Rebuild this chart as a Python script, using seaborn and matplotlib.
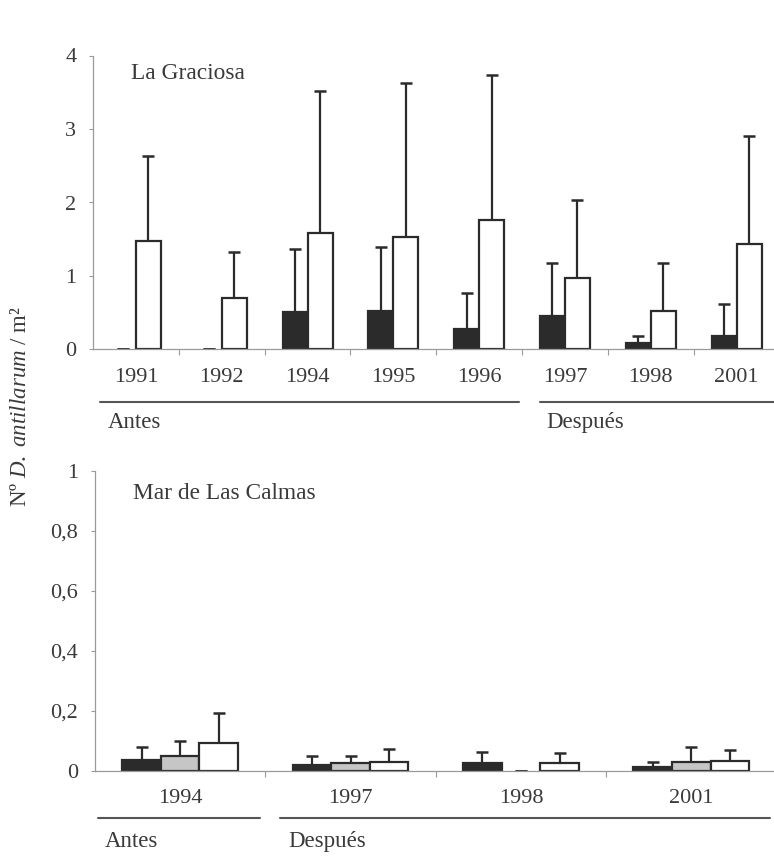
import numpy as np
import pandas as pd
import matplotlib
matplotlib.use("Agg")
import matplotlib.pyplot as plt
import matplotlib.transforms as mtransforms
import seaborn as sns

# ---------------- data ----------------
top_years = ["1991", "1992", "1994", "1995", "1996", "1997", "1998", "2001"]
top_black = [0.0, 0.0, 0.51, 0.53, 0.285, 0.46, 0.085, 0.19]
top_black_upper = [0.0, 0.0, 1.37, 1.40, 0.77, 1.18, 0.18, 0.62]
top_white = [1.48, 0.70, 1.58, 1.53, 1.76, 0.97, 0.53, 1.43]
top_white_upper = [2.63, 1.33, 3.52, 3.62, 3.73, 2.03, 1.18, 2.91]

bot_years = ["1994", "1997", "1998", "2001"]
bot_black = [0.036, 0.020, 0.026, 0.011]
bot_black_upper = [0.078, 0.049, 0.061, 0.027]
bot_gray = [0.050, 0.024, 0.0, 0.030]
bot_gray_upper = [0.099, 0.049, 0.0, 0.077]
bot_white = [0.093, 0.030, 0.024, 0.031]
bot_white_upper = [0.191, 0.072, 0.058, 0.069]

top_yticks = [0, 1, 2, 3, 4]
top_yticklabels = ["0", "1", "2", "3", "4"]
bot_yticks = [0, 0.2, 0.4, 0.6, 0.8, 1.0]
bot_yticklabels = ["0", "0,2", "0,4", "0,6", "0,8", "1"]

# ---------------- style ----------------
sns.set_theme(style="white")
plt.rcParams["font.family"] = ["Liberation Serif", "DejaVu Serif"]
plt.rcParams["mathtext.fontset"] = "custom"
plt.rcParams["mathtext.rm"] = "Liberation Serif"
plt.rcParams["mathtext.it"] = "Liberation Serif:italic"

TXT = "#3a3a3a"
DARK = "#2b2b2b"
GRAY = "#c6c6c6"
SPINE = "#9a9a9a"
FS = 16
FS_TITLE = 16.8

W, H = 774, 857
fig = plt.figure(figsize=(W / 100, H / 100), dpi=100)
fig.patch.set_facecolor("white")


def px_axes(left, right, top, bottom):
    return fig.add_axes([left / W, 1 - bottom / H, (right - left) / W, (bottom - top) / H])


def draw_panel(ax, years, series, colors, width, ylim, yticks, yticklabels):
    rows = []
    for name, (vals, ups) in series.items():
        for y, v, u in zip(years, vals, ups):
            rows.append({"year": y, "serie": name, "valor": v, "sup": u})
    df = pd.DataFrame(rows)
    names = list(series.keys())
    sns.barplot(data=df, x="year", y="valor", hue="serie", order=years,
                hue_order=names, palette=colors, width=width, dodge=True,
                errorbar=None, edgecolor=DARK, linewidth=1.6, saturation=1,
                legend=False, ax=ax)
    bars = [p for p in ax.patches]
    k = 0
    for name in names:
        sub = df[df["serie"] == name].set_index("year").loc[years]
        for y in years:
            p = bars[k]
            k += 1
            v = sub.loc[y, "valor"]
            u = sub.loc[y, "sup"]
            xc = p.get_x() + p.get_width() / 2
            if v == 0:
                p.set_visible(False)
            _, caps, _ = ax.errorbar([xc], [v], yerr=[[0], [u - v]], fmt="none",
                                     ecolor=DARK, elinewidth=1.6, capsize=4.3,
                                     capthick=1.8, zorder=1)
            # keep only the upper cap
            if len(caps) == 2:
                lo = caps[0] if caps[0].get_ydata()[0] <= caps[1].get_ydata()[0] else caps[1]
                if u > v:
                    lo.set_visible(False)
    n = len(years)
    ax.set_xlim(-0.5, n - 0.5)
    ax.set_ylim(*ylim)
    ax.set_yticks(yticks)
    ax.set_yticklabels(yticklabels)
    ax.set_xticks(range(n))
    ax.set_xticklabels(years)
    ax.set_xticks([i + 0.5 for i in range(n)], minor=True)
    ax.tick_params(axis="x", which="major", length=0, pad=13,
                   labelsize=FS, labelcolor=TXT)
    ax.tick_params(axis="x", which="minor", length=4, width=0.8,
                   color=SPINE, direction="out", bottom=True)
    ax.tick_params(axis="y", length=3, width=0.8, color=SPINE,
                   direction="out", left=True, pad=9,
                   labelsize=FS, labelcolor=TXT)
    ax.set_xlabel("")
    ax.set_ylabel("")
    for s in ["top", "right"]:
        ax.spines[s].set_visible(False)
    for s in ["left", "bottom"]:
        ax.spines[s].set_color(SPINE)
        ax.spines[s].set_linewidth(0.9)
    ax.set_facecolor("none")


# ---------------- top panel ----------------
ax1 = px_axes(93, 779.5, 55.5, 349.5)
draw_panel(ax1, top_years,
           {"A": (top_black, top_black_upper), "C": (top_white, top_white_upper)},
           [DARK, "white"], 0.583, (0, 4), top_yticks, top_yticklabels)
ax1.text(0.056, 0.94, "La Graciosa", transform=ax1.transAxes, fontsize=FS_TITLE,
         color=TXT, va="center", ha="left")
tr1 = mtransforms.blended_transform_factory(ax1.transData, ax1.transAxes)
ax1.plot([-0.42, 4.46], [-0.178, -0.178], color="#555555", lw=1.5,
         transform=tr1, clip_on=False)
ax1.plot([4.71, 8.0], [-0.178, -0.178], color="#555555", lw=1.5,
         transform=tr1, clip_on=False)
ax1.text(-0.33, -0.25, "Antes", transform=tr1, fontsize=FS + 0.5, color=TXT,
         va="center", ha="left")
ax1.text(4.78, -0.25, "Después", transform=tr1, fontsize=FS + 0.5, color=TXT,
         va="center", ha="left")

# ---------------- bottom panel ----------------
ax2 = px_axes(95, 776.5, 470.7, 770.5)
draw_panel(ax2, bot_years,
           {"A": (bot_black, bot_black_upper), "B": (bot_gray, bot_gray_upper),
            "C": (bot_white, bot_white_upper)},
           [DARK, GRAY, "white"], 0.68, (0, 1), bot_yticks, bot_yticklabels)
ax2.text(0.056, 0.925, "Mar de Las Calmas", transform=ax2.transAxes, fontsize=FS_TITLE,
         color=TXT, va="center", ha="left")
tr2 = mtransforms.blended_transform_factory(ax2.transData, ax2.transAxes)
ax2.plot([-0.482, 0.468], [-0.157, -0.157], color="#555555", lw=1.5,
         transform=tr2, clip_on=False)
ax2.plot([0.586, 3.46], [-0.157, -0.157], color="#555555", lw=1.5,
         transform=tr2, clip_on=False)
ax2.text(-0.44, -0.237, "Antes", transform=tr2, fontsize=FS + 0.5, color=TXT,
         va="center", ha="left")
ax2.text(0.635, -0.237, "Después", transform=tr2, fontsize=FS + 0.5, color=TXT,
         va="center", ha="left")

# ---------------- y label ----------------
fig.text(21 / W, 1 - 407 / H, r"Nº $\mathit{D.\ antillarum}$ / m²",
         rotation=90, fontsize=16.5, color=TXT, va="center", ha="center")

fig.savefig("out.png", dpi=100, facecolor="white")
